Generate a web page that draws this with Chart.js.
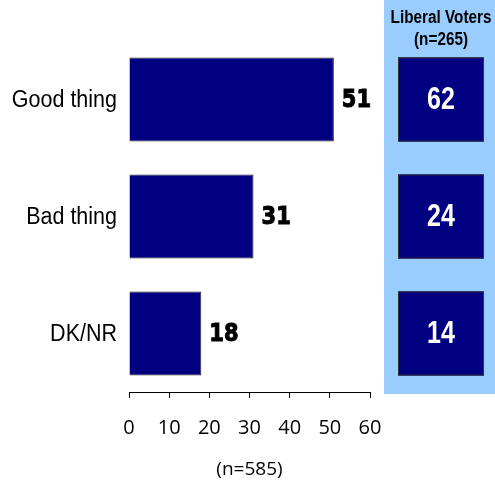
<!DOCTYPE html>
<html>
<head>
<meta charset="utf-8">
<script src="https://cdn.jsdelivr.net/npm/chart.js@4.4.0/dist/chart.umd.min.js"></script>
<style>
  html, body { margin: 0; padding: 0; background: #fff; }
  #wrap { width: 495px; height: 483px; }
</style>
</head>
<body>
<div id="wrap"><canvas id="chartOne" width="495" height="483"></canvas></div>
<script>
// data
const categories = ['Good thing', 'Bad thing', 'DK/NR'];
const allVoters = [51, 31, 18];
const liberalVoters = [62, 24, 14];
const xTicks = [0, 10, 20, 30, 40, 50, 60];
const panelTitle = ['Liberal Voters', '(n=265)'];
const sampleNote = '(n=585)';

// text a bit taller than wide, like the original
function tallText(ctx, text, x, y, font, sy, heavy) {
    ctx.save();
    ctx.font = font;
    ctx.translate(x, y);
    ctx.scale(1, sy);
    ctx.fillText(text, 0, 0);
    if (heavy) {
        ctx.lineWidth = heavy;
        ctx.strokeStyle = ctx.fillStyle;
        ctx.strokeText(text, 0, 0);
    }
    ctx.restore();
}

// category names and value labels next to bars
const barText = {
    id: 'barText',
    afterDatasetsDraw(chart) {
        const ctx = chart.ctx;
        const meta = chart.getDatasetMeta(0);
        ctx.save();
        ctx.fillStyle = '#000';
        ctx.textBaseline = 'middle';
        meta.data.forEach((bar, i) => {
            ctx.textAlign = 'left';
            tallText(ctx, allVoters[i], bar.x + 8, bar.y + 1, 'bold 21px "DejaVu Sans"', 1.18, 0.9);
            ctx.textAlign = 'right';
            tallText(ctx, categories[i], 117, bar.y + 1, '21.5px "Liberation Sans"', 1.1);
        });
        ctx.restore();
    }
};

// light blue side panel with liberal voters
const sidePanel = {
    id: 'sidePanel',
    beforeDraw(chart) {
        const ctx = chart.ctx;
        const yScale = chart.scales.y;
        const meta = chart.getDatasetMeta(0);
        const boxH = meta.data[0].height;
        const left = 384, right = 495;
        ctx.save();
        ctx.fillStyle = '#99CCFF';
        ctx.fillRect(left, 0, right - left, chart.chartArea.bottom + 2);

        ctx.fillStyle = '#000';
        ctx.textAlign = 'center';
        ctx.textBaseline = 'middle';
        tallText(ctx, panelTitle[0], 441, 18, 'bold 15.3px "Liberation Sans"', 1.15);
        tallText(ctx, panelTitle[1], 441, 40, 'bold 15.3px "Liberation Sans"', 1.15);

        const boxW = 86;
        liberalVoters.forEach((v, i) => {
            const cy = yScale.getPixelForValue(i);
            const x0 = 441 - boxW / 2;
            ctx.fillStyle = '#000080';
            ctx.fillRect(x0, cy - boxH / 2, boxW, boxH);
            ctx.strokeStyle = '#333';
            ctx.lineWidth = 1;
            ctx.strokeRect(x0 + 0.5, cy - boxH / 2 + 0.5, boxW - 1, boxH - 1);
            ctx.fillStyle = '#fff';
            tallText(ctx, v, 441, cy + 1, 'bold 25px "Liberation Sans"', 1.25);
        });
        ctx.restore();
    }
};

new Chart(document.getElementById('chartOne'), {
    type: 'bar',
    data: {
        labels: categories,
        datasets: [{
            data: allVoters,
            backgroundColor: '#000080',
            borderColor: '#222',
            borderWidth: 1,
            barPercentage: 1,
            categoryPercentage: 0.72
        }]
    },
    options: {
        indexAxis: 'y',
        responsive: false,
        animation: false,
        layout: { padding: { top: 41, right: 125, left: 0, bottom: 0 } },
        plugins: {
            legend: { display: false },
            tooltip: { enabled: false }
        },
        scales: {
            x: {
                min: xTicks[0],
                max: xTicks[xTicks.length - 1],
                afterBuildTicks: s => { s.ticks = xTicks.map(v => ({ value: v })); },
                afterFit: s => { s.height = 91; },
                grid: { display: true, drawOnChartArea: false, drawTicks: true, tickLength: 6, color: '#000' },
                border: { display: true, color: '#000' },
                ticks: { color: '#000', font: { family: 'Open Sans', size: 20 }, padding: 18 },
                title: {
                    display: true,
                    text: sampleNote,
                    color: '#000',
                    font: { family: 'Open Sans', size: 19 },
                    padding: { top: 0, bottom: 2 }
                }
            },
            y: {
                afterFit: s => { s.width = 129; },
                grid: { display: false },
                border: { display: false },
                ticks: { display: false }
            }
        }
    },
    plugins: [sidePanel, barText]
});
</script>
</body>
</html>
